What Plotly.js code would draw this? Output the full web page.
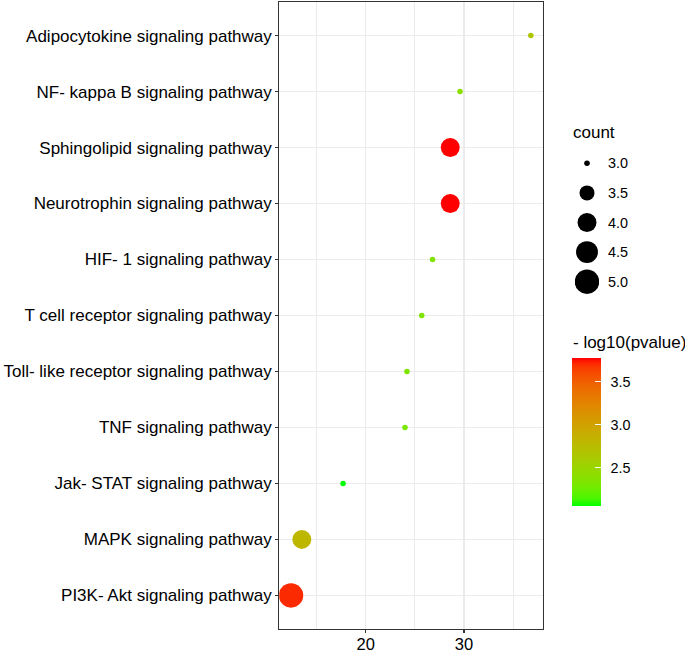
<!DOCTYPE html>
<html>
<head>
<meta charset="utf-8">
<script src="https://cdn.plot.ly/plotly-3.0.1.min.js"></script>
<style>html,body{margin:0;padding:0;background:#fff;}</style>
</head>
<body>
<div id="chart" style="width:685px;height:652px;"></div>
<script>
// ---- data (top to bottom) ----
const pathways = [
  "Adipocytokine signaling pathway",
  "NF- kappa B signaling pathway",
  "Sphingolipid signaling pathway",
  "Neurotrophin signaling pathway",
  "HIF- 1 signaling pathway",
  "T cell receptor signaling pathway",
  "Toll- like receptor signaling pathway",
  "TNF signaling pathway",
  "Jak- STAT signaling pathway",
  "MAPK signaling pathway",
  "PI3K- Akt signaling pathway"
];
const xValues = [36.8, 29.6, 28.6, 28.6, 26.8, 25.7, 24.2, 24.0, 17.7, 13.5, 12.4];
const counts  = [3, 3, 4, 4, 3, 3, 3, 3, 3, 4, 5];
const negLog10P = [2.65, 2.40, 3.77, 3.77, 2.36, 2.34, 2.33, 2.31, 2.055, 2.80, 3.70];
const sizeBreaks = [3.0, 3.5, 4.0, 4.5, 5.0];
const colorTicks = [2.5, 3.0, 3.5];

// ---- helpers ----
const cMinCount = Math.min(...counts), cMaxCount = Math.max(...counts);
function sizeFor(c) {
  const t = (c - cMinCount) / (cMaxCount - cMinCount);
  const s = 1 + 5 * Math.sqrt(Math.max(0, t));
  return 1.33 * (s * 2.845 + 0.945) + 0.5;
}
function lin(c){c/=255;return c<=0.04045?c/12.92:Math.pow((c+0.055)/1.055,2.4);}
function unlin(c){const v=c<=0.0031308?12.92*c:1.055*Math.pow(c,1/2.4)-0.055;return Math.round(Math.min(1,Math.max(0,v))*255);}
const Xn=0.95047,Yn=1.0,Zn=1.08883;
function f(t){return t>0.008856?Math.cbrt(t):(7.787*t+16/116);}
function finv(t){return t>0.206893?t*t*t:(t-16/116)/7.787;}
function rgb2lab(rgb){
  const r=lin(rgb[0]),g=lin(rgb[1]),b=lin(rgb[2]);
  const X=0.4124*r+0.3576*g+0.1805*b, Y=0.2126*r+0.7152*g+0.0722*b, Z=0.0193*r+0.1192*g+0.9505*b;
  const fx=f(X/Xn),fy=f(Y/Yn),fz=f(Z/Zn);
  return [116*fy-16,500*(fx-fy),200*(fy-fz)];
}
function lab2rgb(lab){
  const fy=(lab[0]+16)/116, fx=fy+lab[1]/500, fz=fy-lab[2]/200;
  const X=Xn*finv(fx),Y=Yn*finv(fy),Z=Zn*finv(fz);
  const r= 3.2406*X-1.5372*Y-0.4986*Z, g=-0.9689*X+1.8758*Y+0.0415*Z, b=0.0557*X-0.2040*Y+1.0570*Z;
  return 'rgb('+unlin(r)+','+unlin(g)+','+unlin(b)+')';
}
const labLow = rgb2lab([0,255,0]), labHigh = rgb2lab([255,0,0]);
const colorscale = [];
for (let i=0;i<=20;i++){
  const t=i/20;
  colorscale.push([t, lab2rgb([0,1,2].map(k=>labLow[k]+(labHigh[k]-labLow[k])*t))]);
}

const W=685,H=652;
const font = 'Liberation Sans, Arial, sans-serif';
const cmin = Math.min(...negLog10P), cmax = Math.max(...negLog10P);

const cbBase = {
  x:571.7/W, xanchor:'left', xpad:0,
  y:(H-358.3)/H, yanchor:'top', ypad:0,
  len:147.7, lenmode:'pixels', thickness:29.3, thicknessmode:'pixels',
  outlinewidth:0,
  tickvals:colorTicks, ticktext:colorTicks.map(v=>v.toFixed(1)),
  tickfont:{family:font,size:14.4,color:'#000'},
  title:{text:''}
};

// colorbar carrying the tick labels (drawn first, underneath)
const labelBar = {
  type:'scatter', mode:'markers',
  x:[null], y:[null], xaxis:'x2', yaxis:'y2',
  marker:{
    color:[cmin], colorscale:colorscale, cmin:cmin, cmax:cmax, showscale:true,
    colorbar:Object.assign({}, cbBase, {ticks:'outside', ticklen:7, tickcolor:'rgba(0,0,0,0)'})
  },
  hoverinfo:'skip', showlegend:false
};

const mainTrace = {
  type:'scatter', mode:'markers',
  x:xValues, y:pathways,
  marker:{
    size:counts.map(sizeFor), sizemode:'diameter',
    color:negLog10P, colorscale:colorscale,
    cmin:cmin, cmax:cmax,
    line:{width:0}, opacity:1,
    showscale:true,
    colorbar:Object.assign({}, cbBase, {ticks:'inside', ticklen:6, tickcolor:'#ffffff', tickwidth:1, showticklabels:false})
  },
  hoverinfo:'skip', showlegend:false
};

const sizeLegend = {
  type:'scatter', mode:'markers',
  x:sizeBreaks.map(()=>0), y:sizeBreaks,
  xaxis:'x2', yaxis:'y2',
  marker:{size:sizeBreaks.map(sizeFor), sizemode:'diameter', color:'#000', opacity:1, line:{width:0}},
  hoverinfo:'skip', showlegend:false
};

const layout = {
  width:W, height:H,
  margin:{l:0,r:0,t:0,b:0, autoexpand:false},
  paper_bgcolor:'#fff', plot_bgcolor:'#fff',
  font:{family:font,color:'#000'},
  showlegend:false,
  xaxis:{
    domain:[279.3/W, 543.3/W],
    range:[11.21, 38.07],
    tick0:0, dtick:10,
    showgrid:true, gridcolor:'#EBEBEB', gridwidth:1.5,
    minor:{tick0:5, dtick:10, showgrid:true, gridcolor:'#EBEBEB', gridwidth:1.0, ticks:''},
    zeroline:false,
    showline:true, mirror:true, linecolor:'#333333', linewidth:1.1,
    ticks:'outside', ticklen:3, tickcolor:'#333333', tickwidth:1.1,
    ticklabelstandoff:-3,
    tickfont:{family:font,size:16.5,color:'#000'}
  },
  yaxis:{
    domain:[(H-629)/H, (H-2)/H],
    type:'category', categoryorder:'array', categoryarray:pathways,
    range:[pathways.length-1+0.6, -0.6],
    showgrid:true, gridcolor:'#EBEBEB', gridwidth:1.5,
    zeroline:false,
    showline:true, mirror:true, linecolor:'#333333', linewidth:1.1,
    ticks:'outside', ticklen:3, tickcolor:'#333333', tickwidth:1.1,
    tickfont:{family:font,size:17,color:'#000'}
  },
  xaxis2:{
    domain:[575/W, 599/W], range:[-1,1], anchor:'y2',
    visible:false, fixedrange:true
  },
  yaxis2:{
    domain:[(H-296.5)/H, (H-148.5)/H], range:[5.25,2.75], anchor:'x2',
    side:'right', showgrid:false, zeroline:false, showline:false,
    tickvals:sizeBreaks, ticktext:sizeBreaks.map(v=>v.toFixed(1)),
    ticks:'', ticklabelstandoff:8,
    tickfont:{family:font,size:14.4,color:'#000'}
  },
  annotations:[
    {text:'count', xref:'paper', yref:'paper', x:571.7/W, y:(H-132)/H,
     xanchor:'left', yanchor:'middle', showarrow:false, borderpad:0,
     font:{family:font,size:17,color:'#000'}},
    {text:'- log10(pvalue)', xref:'paper', yref:'paper', x:571.7/W, y:(H-342.4)/H,
     xanchor:'left', yanchor:'middle', showarrow:false, borderpad:0,
     font:{family:font,size:17,color:'#000'}}
  ]
};

Plotly.newPlot('chart',[labelBar,mainTrace,sizeLegend],layout,{displayModeBar:false,staticPlot:true});
</script>
</body>
</html>
